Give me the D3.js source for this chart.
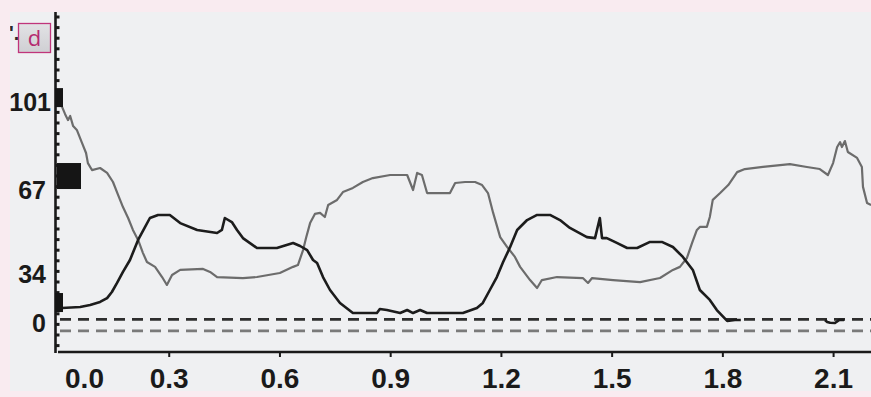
<!DOCTYPE html>
<html>
<head>
<meta charset="utf-8">
<script src="https://cdn.jsdelivr.net/npm/d3@7"></script>
<style>
  body { margin: 0; background: #f9ebf0; }
  svg { display: block; }
</style>
</head>
<body>
<div id="output"></div>
<script>
// time in seconds, amplitude in axis units
const grayT = [0.011, 0.019, 0.027, 0.033, 0.041, 0.051, 0.065, 0.076, 0.081, 0.092, 0.114, 0.133, 0.149, 0.163, 0.176, 0.190, 0.203, 0.217, 0.230, 0.241,
    0.263, 0.282, 0.295, 0.309, 0.331, 0.393, 0.412, 0.431, 0.501, 0.539, 0.601, 0.637, 0.650, 0.664, 0.672, 0.683, 0.696, 0.710, 0.723, 0.732,
    0.756, 0.772, 0.799, 0.826, 0.853, 0.900, 0.946, 0.962, 0.973, 0.986, 1.000, 1.027, 1.062, 1.076, 1.103, 1.130, 1.149, 1.165, 1.179, 1.198,
    1.217, 1.238, 1.252, 1.279, 1.298, 1.311, 1.352, 1.422, 1.436, 1.447, 1.504, 1.577, 1.631, 1.666, 1.685, 1.704, 1.718, 1.731, 1.739, 1.758,
    1.766, 1.774, 1.794, 1.816, 1.840, 1.861, 1.910, 1.983, 2.029, 2.064, 2.086, 2.100, 2.111, 2.119, 2.124, 2.132, 2.140, 2.165, 2.178, 2.181,
    2.192, 2.203];
const grayV = [99.1, 96.4, 94.0, 95.6, 91.7, 90.2, 85.2, 81.3, 77.4, 74.7, 75.5, 73.6, 70.1, 65.0, 60.3, 56.0, 51.3, 47.4, 42.3, 38.7,
    36.8, 31.9, 26.4, 33.3, 35.6, 36.0, 34.8, 31.9, 31.2, 31.9, 34.4, 36.8, 37.5, 43.4, 48.1, 54.0, 57.6, 58.0, 56.4, 61.1,
    63.1, 66.2, 67.8, 70.1, 71.6, 72.8, 72.8, 67.0, 73.6, 72.8, 65.8, 65.8, 65.8, 69.7, 70.1, 70.1, 68.9, 65.8, 58.0, 48.5,
    44.6, 40.7, 36.8, 29.8, 24.3, 29.8, 31.9, 31.2, 27.8, 31.2, 29.8, 28.4, 31.2, 35.6, 36.8, 40.3, 46.2, 51.3, 52.5, 52.5,
    56.4, 63.1, 65.8, 68.9, 73.9, 75.1, 75.9, 77.0, 75.9, 75.1, 72.8, 77.4, 83.6, 85.5, 83.6, 85.9, 81.7, 79.4, 75.9, 68.2,
    61.9, 61.1];

const blackT = [0.011, 0.060, 0.087, 0.114, 0.133, 0.146, 0.160, 0.176, 0.195, 0.217, 0.236, 0.249, 0.271, 0.303, 0.331, 0.377, 0.431, 0.444, 0.452, 0.471,
    0.485, 0.501, 0.539, 0.593, 0.637, 0.656, 0.675, 0.691, 0.702, 0.718, 0.737, 0.764, 0.799, 0.864, 0.872, 0.891, 0.927, 0.946, 0.962, 0.981,
    1.000, 1.097, 1.135, 1.151, 1.170, 1.189, 1.206, 1.225, 1.244, 1.271, 1.298, 1.333, 1.360, 1.387, 1.433, 1.455, 1.468, 1.474, 1.487, 1.514,
    1.542, 1.569, 1.604, 1.636, 1.666, 1.693, 1.720, 1.739, 1.766, 1.785, 1.813, 1.834, 1.850, 1.900, 2.078, 2.084, 2.092, 2.105, 2.118, 2.130];
const blackV = [10.4, 11.1, 12.5, 14.6, 17.3, 21.5, 27.8, 34.8, 39.5, 47.4, 52.5, 56.0, 57.2, 57.2, 54.0, 51.3, 50.1, 51.3, 56.0, 54.4,
    51.3, 48.1, 44.2, 44.2, 46.2, 45.0, 43.4, 39.5, 38.3, 31.9, 22.9, 13.9, 6.9, 6.9, 9.7, 9.0, 6.9, 9.0, 6.9, 9.0,
    6.9, 6.9, 10.4, 13.9, 22.9, 31.9, 38.7, 44.6, 51.3, 55.2, 57.2, 57.2, 55.2, 52.1, 48.5, 48.1, 56.0, 48.1, 48.1, 46.2,
    44.2, 44.2, 46.6, 46.6, 44.6, 40.7, 35.6, 22.9, 16.0, 9.0, 1.4, 2.1, 2.1, null, 2.1, 0.7, 0.2, 0.0, 2.3, 2.1];

const yTicks = [0, 34, 67, 101];
const xTicks = [0, 0.3, 0.6, 0.9, 1.2, 1.5, 1.8, 2.1];
const refLines = [2.5, -5.5];
const markers = [102.7, 72.4, 14.2];
const panelLabel = "d";

const W = 871, H = 397;
const svg = d3.select("#output").append("svg").attr("width", W).attr("height", H);

const x = d3.scaleLinear().domain([0, 2.2]).range([58, 870]);
const y = d3.scaleLinear().domain(yTicks).range([323, 274, 190, 102]);

svg.append("rect").attr("width", W).attr("height", H).style("fill", "#f9ebf0");
svg.append("defs").append("clipPath").attr("id", "panel")
    .append("rect").attr("x", 10).attr("y", 12).attr("width", W - 10).attr("height", 379);
const g = svg.append("g").attr("clip-path", "url(#panel)");
g.append("rect").attr("x", 10).attr("y", 12).attr("width", W - 10).attr("height", 379).style("fill", "#eff0f2");

// dashed reference lines
const refColors = ["#2e2e2e", "#7a7a7a"];
refLines.forEach((v, i) => {
    g.append("line")
        .attr("x1", 60).attr("x2", W)
        .attr("y1", y(v)).attr("y2", y(v))
        .style("stroke", refColors[i])
        .style("stroke-width", 2.8)
        .style("stroke-dasharray", "11,7");
});

const line = d3.line()
    .defined(d => d[1] !== null)
    .x(d => x(d[0]))
    .y(d => y(d[1]));

g.append("path")
    .datum(d3.zip(grayT, grayV))
    .attr("d", line)
    .style("fill", "none")
    .style("stroke", "#6c6c6c")
    .style("stroke-width", 2.2)
    .style("stroke-linejoin", "round");

g.append("path")
    .datum(d3.zip(blackT, blackV))
    .attr("d", line)
    .style("fill", "none")
    .style("stroke", "#1c1c1c")
    .style("stroke-width", 2.6)
    .style("stroke-linejoin", "round");

// y axis
g.append("line")
    .attr("x1", 55.5).attr("x2", 55.5).attr("y1", 12).attr("y2", 353)
    .style("stroke", "#1a1a1a").style("stroke-width", 2.6);
g.selectAll(".minor").data(d3.range(17, 350, 10.6)).join("rect")
    .attr("class", "minor")
    .attr("x", 56).attr("y", d => d - 1.5)
    .attr("width", 3.5).attr("height", 3)
    .style("fill", "#1a1a1a");

const markerSize = [[8, 19], [24, 26], [8, 19]];
g.selectAll(".marker").data(markers).join("rect")
    .attr("class", "marker")
    .attr("x", (d, i) => i == 1 ? 57 : 55)
    .attr("y", (d, i) => y(d) - markerSize[i][1] / 2)
    .attr("width", (d, i) => markerSize[i][0])
    .attr("height", (d, i) => markerSize[i][1])
    .style("fill", "#151515");

const yAxis = g.append("g")
    .attr("transform", "translate(55,0)")
    .call(d3.axisLeft(y).tickValues(yTicks).tickFormat(d3.format("d")).tickSize(0).tickPadding(9));
yAxis.select(".domain").remove();
yAxis.selectAll("text")
    .style("font-family", "Liberation Sans, Arial, sans-serif")
    .style("font-weight", "bold")
    .style("font-size", "25px")
    .style("fill", "#1a1a1a");
yAxis.selectAll(".tick").filter(d => d === 101).select("text").attr("x", -4);

// x axis
g.append("line")
    .attr("x1", 58).attr("x2", W).attr("y1", 352).attr("y2", 352)
    .style("stroke", "#1a1a1a").style("stroke-width", 2.6);
const xAxis = g.append("g")
    .attr("transform", "translate(0,352)")
    .call(d3.axisBottom(x).tickValues(xTicks).tickFormat(d3.format(".1f")).tickSize(5).tickPadding(11));
xAxis.select(".domain").remove();
xAxis.selectAll("line").style("stroke", "#1a1a1a").style("stroke-width", 2);
xAxis.selectAll("text")
    .style("font-family", "Liberation Sans, Arial, sans-serif")
    .style("font-weight", "bold")
    .style("font-size", "28px")
    .style("fill", "#1a1a1a");
xAxis.selectAll(".tick").filter(d => d === 0).each(function () {
    d3.select(this).select("line").remove();
    d3.select(this).select("text").attr("x", 26);
});

// clipped fragment of a label at the top left
g.append("text")
    .attr("x", 9).attr("y", 40)
    .style("font-family", "Liberation Sans, Arial, sans-serif")
    .style("font-weight", "bold")
    .style("font-size", "20px")
    .style("fill", "#2a2a2a")
    .text("'.");

// panel letter
const grad = svg.select("defs").append("linearGradient")
    .attr("id", "boxfill").attr("x1", 0).attr("y1", 0).attr("x2", 0).attr("y2", 1);
grad.append("stop").attr("offset", "0%").attr("stop-color", "#e2e2e5");
grad.append("stop").attr("offset", "100%").attr("stop-color", "#cfcfd3");
svg.append("rect")
    .attr("x", 18.5).attr("y", 23.5).attr("width", 32).attr("height", 29)
    .style("fill", "url(#boxfill)")
    .style("stroke", "#c0357b")
    .style("stroke-width", 1.3);
svg.append("text")
    .attr("x", 34.5).attr("y", 46)
    .style("font-family", "Open Sans, sans-serif")
    .style("font-size", "22px")
    .style("text-anchor", "middle")
    .style("fill", "#b52a70")
    .text(panelLabel);
</script>
</body>
</html>
